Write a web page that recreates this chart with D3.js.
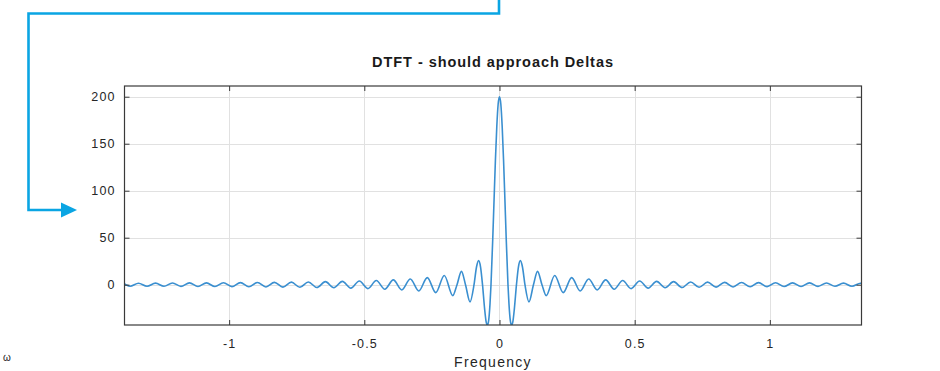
<!DOCTYPE html>
<html>
<head>
<meta charset="utf-8">
<script src="https://cdn.jsdelivr.net/npm/d3@7"></script>
<style>
  html, body { margin: 0; padding: 0; background: #fff; }
  svg { display: block; }
  text { font-family: "Liberation Sans", Arial, Helvetica, sans-serif; }
</style>
</head>
<body>
<svg id="chart" width="940" height="371"></svg>
<script>
// ---- data ----
const freq = [
  -1.387, -1.3823, -1.3666, -1.3352, -1.3037, -1.2723, -1.2409, -1.2095, -1.1781, -1.1467,
  -1.1153, -1.0838, -1.0524, -1.0210, -0.9896, -0.9582, -0.9268, -0.8954, -0.8639, -0.8325,
  -0.8011, -0.7697, -0.7383, -0.7069, -0.6754, -0.6440, -0.6126, -0.5812, -0.5498, -0.5184,
  -0.4869, -0.4555, -0.4241, -0.3927, -0.3613, -0.3299, -0.2985, -0.2670, -0.2356, -0.2042,
  -0.1728, -0.1571, -0.1407, -0.1257, -0.109, -0.0942, -0.085, -0.0773, -0.07, -0.0628,
  -0.055, -0.05, -0.045, -0.04, -0.035, -0.0314, -0.025, -0.02, -0.015, -0.01, -0.005,
  0,
  0.005, 0.01, 0.015, 0.02, 0.025, 0.0314, 0.035, 0.04, 0.045, 0.05, 0.055,
  0.0628, 0.07, 0.0773, 0.085, 0.0942, 0.109, 0.1257, 0.1407, 0.1571, 0.1728,
  0.2042, 0.2356, 0.2670, 0.2985, 0.3299, 0.3613, 0.3927, 0.4241, 0.4555, 0.4869,
  0.5184, 0.5498, 0.5812, 0.6126, 0.6440, 0.6754, 0.7069, 0.7383, 0.7697, 0.8011,
  0.8325, 0.8639, 0.8954, 0.9268, 0.9582, 0.9896, 1.0210, 1.0524, 1.0838, 1.1153,
  1.1467, 1.1781, 1.2095, 1.2409, 1.2723, 1.3037, 1.3352, 1.339
];
const dtft = [
  0.7, 0, -1.6, 1.6, -1.7, 1.7, -1.7, 1.8, -1.8, 1.9,
  -1.9, 1.9, -2.0, 2.1, -2.1, 2.2, -2.2, 2.3, -2.4, 2.5,
  -2.6, 2.7, -2.8, 2.9, -3.0, 3.2, -3.3, 3.5, -3.7, 3.9,
  -4.2, 4.4, -4.8, 5.1, -5.6, 6.1, -6.7, 7.5, -8.5, 9.8,
  -11.6, 0, 14.2, 0, -18.3, 0, 18.8, 25.6, 18.8, 0,
  -25.7, -38.4, -43.4, -38, -20, 0, 48, 91, 133, 168, 192,
  200,
  192, 168, 133, 91, 48, 0, -20, -38, -43.4, -38.4, -25.7,
  0, 18.8, 25.6, 18.8, 0, -18.3, 0, 14.2, 0, -11.6,
  9.8, -8.5, 7.5, -6.7, 6.1, -5.6, 5.1, -4.8, 4.4, -4.2,
  3.9, -3.7, 3.5, -3.3, 3.2, -3.0, 2.9, -2.8, 2.7, -2.6,
  2.5, -2.4, 2.3, -2.2, 2.2, -2.1, 2.1, -2.0, 1.9, -1.9,
  1.9, -1.8, 1.8, -1.7, 1.7, -1.7, 1.6, 1.6
];
const xTicks = [-1, -0.5, 0, 0.5, 1];
const xTickLabels = ["-1", "-0.5", "0", "0.5", "1"];
const yTicks = [0, 50, 100, 150, 200];
const xDomain = [-1.387, 1.339];
const yDomain = [-42.9, 211.4];
const title = "DTFT - should approach Deltas";
const xLabel = "Frequency";

// ---- layout ----
const svg = d3.select("#chart");
const L = 124.5, R = 861.5, T = 86, B = 325;
const x = d3.scaleLinear().domain(xDomain).range([L, R]);
const y = d3.scaleLinear().domain(yDomain).range([B, T]);

// connector arrow (decoration in the reference)
svg.append("polyline")
  .attr("points", [[499, 0], [499, 13.5], [28.5, 13.5], [28.5, 210], [62, 210]].map(p => p.join(",")).join(" "))
  .attr("fill", "none").attr("stroke", "#0aa5e3").attr("stroke-width", 2.6);
svg.append("polygon")
  .attr("points", "61,202.5 77,210 61,217.5")
  .attr("fill", "#0aa5e3");

// small stray label
svg.append("text").attr("x", 3).attr("y", 361).attr("font-size", 10).attr("fill", "#222").text("ω");

// grid
const grid = svg.append("g");
grid.selectAll(".gx").data(xTicks).join("line")
  .attr("x1", d => Math.round(x(d)) + 0.5).attr("x2", d => Math.round(x(d)) + 0.5)
  .attr("y1", T).attr("y2", B)
  .attr("stroke", "#e1e1e1").attr("stroke-width", 1);
grid.selectAll(".gy").data(yTicks).join("line")
  .attr("y1", d => Math.round(y(d)) + 0.5).attr("y2", d => Math.round(y(d)) + 0.5)
  .attr("x1", L).attr("x2", R)
  .attr("stroke", "#e1e1e1").attr("stroke-width", 1);

// curve
svg.append("clipPath").attr("id", "clip")
  .append("rect").attr("x", L).attr("y", T).attr("width", R - L).attr("height", B - T);
const pts = freq.map((f, i) => [f, dtft[i]]);
const line = d3.line().x(d => x(d[0])).y(d => y(d[1])).curve(d3.curveMonotoneX);
svg.append("path")
  .attr("clip-path", "url(#clip)")
  .attr("d", line(pts))
  .attr("fill", "none").attr("stroke", "#3a8fd0").attr("stroke-width", 1.6);

// axes with inward ticks (all four sides)
const axisColor = "#3a3a3a";
const tl = 5;
const axB = d3.axisBottom(x).tickValues(xTicks).tickFormat((d, i) => xTickLabels[i]).tickSizeInner(-tl).tickSizeOuter(0).tickPadding(14);
const axT = d3.axisTop(x).tickValues(xTicks).tickFormat("").tickSizeInner(-tl).tickSizeOuter(0);
const axL = d3.axisLeft(y).tickValues(yTicks).tickSizeInner(-tl).tickSizeOuter(0).tickPadding(9);
const axR = d3.axisRight(y).tickValues(yTicks).tickFormat("").tickSizeInner(-tl).tickSizeOuter(0);

function style(g) {
  g.select(".domain").remove();
  g.selectAll(".tick line").attr("stroke", axisColor);
  g.selectAll(".tick text").attr("fill", "#262626").attr("font-size", 12.5)
    .attr("letter-spacing", "1.1px")
    .attr("font-family", "'Liberation Sans', Arial, sans-serif");
}
svg.append("g").attr("transform", `translate(0,${B})`).call(axB).call(style);
svg.append("g").attr("transform", `translate(0,${T})`).call(axT).call(style);
svg.append("g").attr("transform", `translate(${L},0)`).call(axL).call(style);
svg.append("g").attr("transform", `translate(${R},0)`).call(axR).call(style);

// box
svg.append("rect").attr("x", L).attr("y", T).attr("width", R - L).attr("height", B - T)
  .attr("fill", "none").attr("stroke", axisColor).attr("stroke-width", 1.2);

// title and axis label
svg.append("text").attr("x", (L + R) / 2).attr("y", 67).attr("text-anchor", "middle")
  .attr("font-size", 14.5).attr("font-weight", "bold").attr("letter-spacing", "0.95px")
  .attr("fill", "#1a1a1a").text(title);
svg.append("text").attr("x", (L + R) / 2).attr("y", 367).attr("text-anchor", "middle")
  .attr("font-size", 14).attr("letter-spacing", "1.3px").attr("fill", "#262626").text(xLabel);
</script>
</body>
</html>
